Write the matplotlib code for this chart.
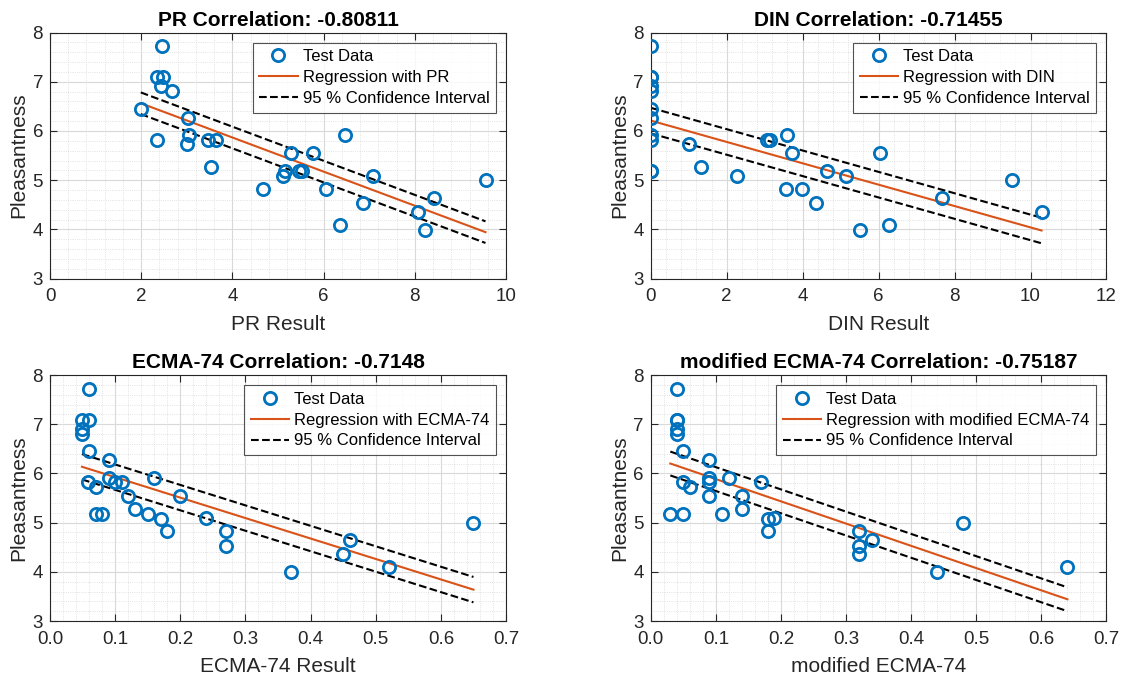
import numpy as np
import matplotlib
matplotlib.use("Agg")
import matplotlib.pyplot as plt
from matplotlib.ticker import AutoMinorLocator

plt.rcParams['font.family'] = ['Liberation Sans', 'DejaVu Sans']

# pleasantness rating of each test sample (same for all four panels)
pleasantness = [7.72, 7.09, 7.09, 6.91, 6.81, 6.45, 6.27, 5.91, 5.91, 5.82,
                5.82, 5.82, 5.73, 5.55, 5.55, 5.27, 5.18, 5.18, 5.18, 5.08,
                5.09, 4.82, 4.82, 4.53, 3.99, 4.36, 4.64, 4.09, 5.00]

pr_result = [2.45, 2.34, 2.47, 2.44, 2.68, 1.99, 3.03, 3.04, 6.47, 2.34,
             3.46, 3.63, 3.01, 5.29, 5.76, 3.54, 5.15, 5.47, 5.52, 5.10,
             7.09, 4.66, 6.05, 6.87, 8.23, 8.06, 8.42, 6.36, 9.55]

din_result = [0.0, 0.0, 0.0, 0.0, 0.0, 0.0, 0.0, 0.0, 3.59, 0.0,
              3.05, 3.14, 1.00, 3.72, 6.03, 1.32, 0.0, 0.0, 4.65, 2.27,
              5.13, 3.57, 3.97, 4.34, 5.50, 10.29, 7.68, 6.26, 9.50]

ecma_result = [0.060, 0.049, 0.060, 0.049, 0.049, 0.060, 0.090, 0.090, 0.160, 0.058,
               0.100, 0.111, 0.070, 0.119, 0.200, 0.130, 0.070, 0.080, 0.150, 0.170,
               0.240, 0.179, 0.270, 0.270, 0.370, 0.450, 0.460, 0.520, 0.650]

mod_ecma_result = [0.040, 0.040, 0.040, 0.040, 0.040, 0.050, 0.089, 0.089, 0.120, 0.050,
                   0.089, 0.170, 0.060, 0.089, 0.140, 0.140, 0.030, 0.050, 0.110, 0.180,
                   0.190, 0.180, 0.320, 0.320, 0.440, 0.320, 0.340, 0.640, 0.480]

panels = [
    ("PR", pr_result, "PR Result", -0.80811, (0, 10), [0, 2, 4, 6, 8, 10]),
    ("DIN", din_result, "DIN Result", -0.71455, (0, 12), [0, 2, 4, 6, 8, 10, 12]),
    ("ECMA-74", ecma_result, "ECMA-74 Result", -0.7148, (0, 0.7),
     [0, 0.1, 0.2, 0.3, 0.4, 0.5, 0.6, 0.7]),
    ("modified ECMA-74", mod_ecma_result, "modified ECMA-74", -0.75187, (0, 0.7),
     [0, 0.1, 0.2, 0.3, 0.4, 0.5, 0.6, 0.7]),
]

blue = (0, 0.447, 0.741)
orange = (0.85, 0.325, 0.098)
axcol = (0.15, 0.15, 0.15)

fig = plt.figure(figsize=(11.24, 6.82), dpi=100)
positions = [
    [0.0445, 0.5915, 0.4057, 0.3607],
    [0.579, 0.5915, 0.4054, 0.3607],
    [0.0445, 0.0894, 0.4057, 0.3607],
    [0.579, 0.0894, 0.4054, 0.3607],
]

y = np.array(pleasantness)
t_val = 2.0518  # t(0.975, 27)

for pos, (name, xs, xlabel, corr, xlim, xticks) in zip(positions, panels):
    ax = fig.add_axes(pos)
    x = np.array(xs)

    slope, icpt = np.polyfit(x, y, 1)
    resid = y - (icpt + slope * x)
    s = np.sqrt(np.sum(resid ** 2) / (len(x) - 2))
    xe = np.array([x.min(), x.max()])
    fit = icpt + slope * xe
    hw = t_val * s / np.sqrt(len(x))

    ax.plot(x, y, 'o', mfc='none', mec=blue, mew=2, ms=8.8, ls='none',
            label='Test Data', zorder=3)
    ax.plot(xe, fit, '-', color=orange, lw=1.5, label='Regression with ' + name)
    ax.plot(xe, fit + hw, '--', color='k', lw=1.5, label='95 % Confidence Interval')
    ax.plot(xe, fit - hw, '--', color='k', lw=1.5)

    ax.set_xlim(xlim)
    ax.set_ylim(3, 8)
    ax.set_xticks(xticks)
    ax.set_yticks([3, 4, 5, 6, 7, 8])
    ax.xaxis.set_minor_locator(AutoMinorLocator(5))
    ax.yaxis.set_minor_locator(AutoMinorLocator(5))
    ax.grid(which='major', color=(0.85, 0.85, 0.85), lw=0.8)
    ax.grid(which='minor', color=(0.85, 0.85, 0.85), lw=0.6, ls=':')
    ax.set_axisbelow(True)
    ax.tick_params(which='both', direction='in', top=True, right=True,
                   colors=axcol, labelsize=13.5)
    ax.tick_params(which='minor', length=0)
    ax.tick_params(which='major', length=5)
    ax.tick_params(axis='x', pad=7)
    ax.tick_params(axis='y', pad=5)
    for sp in ax.spines.values():
        sp.set_color(axcol)
        sp.set_linewidth(0.8)

    ax.set_title(f"{name} Correlation: {corr}", fontsize=15, fontweight='bold', pad=5)
    ax.set_xlabel(xlabel, fontsize=15, color=axcol, labelpad=7)
    ax.set_ylabel('Pleasantness', fontsize=15, color=axcol, labelpad=3)

    leg = ax.legend(loc='upper right', fontsize=12, frameon=True, fancybox=False,
                    borderpad=0.4, labelspacing=0.35, handlelength=2.3,
                    handletextpad=0.3, borderaxespad=0.6)
    leg.get_frame().set_edgecolor(axcol)
    leg.get_frame().set_linewidth(0.8)

fig.savefig('out.png', dpi=100)
